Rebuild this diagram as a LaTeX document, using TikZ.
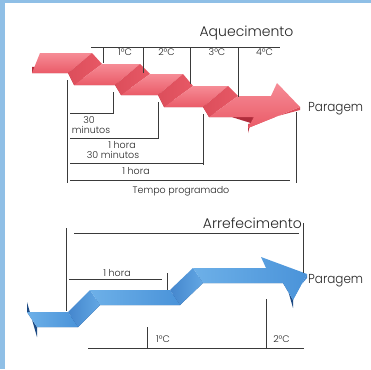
\documentclass[tikz,border=0pt]{standalone}
\usepackage{fontspec}
\setmainfont{Poppins Light}
\definecolor{bordblue}{HTML}{8FBFE6}
\definecolor{lgray}{HTML}{3A3A3A}
\definecolor{tgray}{HTML}{262626}
\definecolor{redA}{HTML}{F68C96}
\definecolor{redB}{HTML}{EA5B68}
\definecolor{redR}{HTML}{DC4E5B}
\definecolor{redD}{HTML}{B02C3B}
\definecolor{blueA}{HTML}{6DB0E8}
\definecolor{blueB}{HTML}{4A93D9}
\definecolor{blueR}{HTML}{4486CD}
\definecolor{blueD}{HTML}{1E4B84}
\begin{document}
\begin{tikzpicture}[x=1pt,y=-1pt,
  dim/.style={draw=lgray,line width=0.6pt},
  lbl/.style={inner sep=0pt,anchor=base,text=tgray,font=\fontsize{9.5}{10}\selectfont},
  big/.style={inner sep=0pt,text=tgray,font=\fontsize{14}{16}\selectfont},
  rflat/.style={top color=redA,bottom color=redB},
  rrise/.style={left color=redR,right color=redB!80!redR},
  bflat/.style={left color=blueA,right color=blueB},
  brise/.style={left color=blueR,right color=blueA!70!blueB}]
\useasboundingbox (0,0) rectangle (371,369);
\fill[white] (0,0) rectangle (371,369);
\fill[bordblue] (0,0) rectangle (371,3);
\fill[bordblue] (0,0) rectangle (5,369);

% ---------------- red staircase ----------------
% front edge
\coordinate (F0) at (32,73);  \coordinate (F1) at (68,73);
\coordinate (F2) at (74,85);  \coordinate (F3) at (115,85);
\coordinate (F4) at (121,95); \coordinate (F5) at (158,95);
\coordinate (F6) at (164,107);\coordinate (F7) at (203,107);
\coordinate (F8) at (209,117);\coordinate (FS) at (254,117);
% back edge
\coordinate (B0) at (40,53);  \coordinate (B1) at (92,53);
\coordinate (B2) at (102,64); \coordinate (B3) at (140,64);
\coordinate (B4) at (150,74); \coordinate (B5) at (183,74);
\coordinate (B6) at (193,86); \coordinate (B7) at (228,86);
\coordinate (B8) at (238,96); \coordinate (BS) at (271,96);
% arrow head
\coordinate (RB) at (277,83); \coordinate (RT) at (300,107); \coordinate (RF) at (248,128);
% dark faces
\fill[redD] (F0) -- (F1) -- (F2) -- (F3) -- (F4) -- (F5) -- (F6) -- (F7) -- (F8) -- (FS)
  -- ++(0,7) -- ([yshift=7pt]F8) -- ([yshift=7pt]F7) -- ([yshift=7pt]F6) -- ([yshift=7pt]F5)
  -- ([yshift=7pt]F4) -- ([yshift=7pt]F3) -- ([yshift=7pt]F2) -- ([yshift=7pt]F1) -- ([yshift=6pt]F0) -- cycle;
\fill[redD!85!redB] (FS) -- (RF) -- ++(0,5) -- ([yshift=6pt]FS) -- cycle;
\fill[redR] (RF) -- (RT) -- ++(0,3) -- ([yshift=4pt]RF) -- cycle;
% top faces
\path[rflat] (F0) -- (F1) -- (B1) -- (B0) -- cycle;
\path[rrise] (F1) -- (F2) -- (B2) -- (B1) -- cycle;
\path[rflat] (F2) -- (F3) -- (B3) -- (B2) -- cycle;
\path[rrise] (F3) -- (F4) -- (B4) -- (B3) -- cycle;
\path[rflat] (F4) -- (F5) -- (B5) -- (B4) -- cycle;
\path[rrise] (F5) -- (F6) -- (B6) -- (B5) -- cycle;
\path[rflat] (F6) -- (F7) -- (B7) -- (B6) -- cycle;
\path[rrise] (F7) -- (F8) -- (B8) -- (B7) -- cycle;
\path[rflat] (F8) -- (FS) -- (RF) -- (RT) -- (RB) -- (BS) -- (B8) -- cycle;

% ---------------- blue ribbon ----------------
\coordinate (b0) at (27,312); \coordinate (b1) at (68,312);
\coordinate (b2) at (90,290); \coordinate (b3) at (170,290);
\coordinate (b4) at (193,268);\coordinate (bS) at (266,268);
\coordinate (f0) at (37,327); \coordinate (f1) at (78,327);
\coordinate (f2) at (100,305);\coordinate (f3) at (180,305);
\coordinate (f4) at (203,283);\coordinate (fS) at (283,283);
\coordinate (BB) at (261,257); \coordinate (BT) at (307,274); \coordinate (BF) at (293,300);
% dark faces
\fill[blueD] (b0) -- (f0) -- ++(0,10) -- ([yshift=10pt]b0) -- cycle;
\fill[blueD] (f0) -- (f1) -- (f2) -- (f3) -- (f4) -- (fS) -- (BF) -- ++(0,8)
  -- ([yshift=10pt]fS) -- ([yshift=10pt]f4) -- ([yshift=10pt]f3) -- ([yshift=10pt]f2)
  -- ([yshift=10pt]f1) -- ([yshift=10pt]f0) -- cycle;
\fill[blueR] (BF) -- (BT) -- ++(0,4) -- ([yshift=6pt]BF) -- cycle;
% top faces
\path[bflat] (b0) -- (b1) -- (f1) -- (f0) -- cycle;
\path[brise] (b1) -- (b2) -- (f2) -- (f1) -- cycle;
\path[bflat] (b2) -- (b3) -- (f3) -- (f2) -- cycle;
\path[brise] (b3) -- (b4) -- (f4) -- (f3) -- cycle;
\path[bflat] (b4) -- (bS) -- (BB) -- (BT) -- (BF) -- (fS) -- (f4) -- cycle;

% ---------------- upper dimension lines ----------------
\coordinate (hA) at (91,47);  \coordinate (hB) at (280,47);
\coordinate (t1) at (103,47); \coordinate (u1) at (103,63);
\coordinate (t2) at (143,47); \coordinate (u2) at (143,73);
\coordinate (t3) at (190,47); \coordinate (u3) at (190,84);
\coordinate (t4) at (238,47); \coordinate (u4) at (238,97);
\draw[dim] (hA) -- (hB);
\draw[dim] (t1) -- (u1); \draw[dim] (t2) -- (u2);
\draw[dim] (t3) -- (u3); \draw[dim] (t4) -- (u4);
\node[big,anchor=base] (aq) at (246.5,37) {Aquecimento};
\node[lbl] (c1) at (125,55) {1°C};
\node[lbl] (c2) at (166.5,55) {2°C};
\node[lbl] (c3) at (217,55) {3°C};
\node[lbl] (c4) at (264.5,55) {4°C};
\node[big,anchor=base west,font=\fontsize{13}{15}\selectfont\addfontfeature{FakeStretch=0.92}] (p1) at (308,111) {Paragem};

\coordinate (L0) at (67,80);  \coordinate (L1) at (67,183);
\coordinate (m1a) at (70,113); \coordinate (m1b) at (113,113); \coordinate (m1c) at (113,92);
\coordinate (m2a) at (70,138); \coordinate (m2b) at (158,138); \coordinate (m2c) at (158,102);
\coordinate (m3a) at (70,163); \coordinate (m3b) at (203,163); \coordinate (m3c) at (203,114); \coordinate (m3d) at (203,165);
\coordinate (m4a) at (70,180); \coordinate (m4b) at (290,180); \coordinate (m4c) at (296,112); \coordinate (m4d) at (296,183);
\draw[dim] (L0) -- (L1);
\draw[dim] (m1a) -- (m1b) -- (m1c);
\draw[dim] (m2a) -- (m2b) -- (m2c);
\draw[dim] (m3a) -- (m3b); \draw[dim] (m3c) -- (m3d);
\draw[dim] (m4a) -- (m4b); \draw[dim] (m4c) -- (m4d);
\node[lbl] (s1) at (89,123) {30};
\node[lbl] (s2) at (91,133) {minutos};
\node[lbl] (s3) at (122,148) {1 hora};
\node[lbl] (s4) at (113,158) {30 minutos};
\node[lbl] (s5) at (136,174) {1 hora};
\node[lbl] (s6) at (181,193) {Tempo programado};

% ---------------- lower dimension lines ----------------
\node[big,anchor=base east] (ar) at (302,228) {Arrefecimento};
\node[big,anchor=base west,font=\fontsize{13}{15}\selectfont\addfontfeature{FakeStretch=0.92}] (p2) at (308,283) {Paragem};
\coordinate (k0) at (74,233); \coordinate (k1) at (299,233);
\coordinate (k2) at (66,228); \coordinate (k3) at (66,311);
\coordinate (k4) at (303,223); \coordinate (k5) at (303,273);
\coordinate (k6) at (69,279); \coordinate (k7) at (162,279);
\coordinate (k8) at (167,273); \coordinate (k9) at (167,290);
\coordinate (n0) at (88,348); \coordinate (n1) at (304,348);
\coordinate (n2) at (147,327); \coordinate (n3) at (147,348);
\coordinate (n4) at (266,299); \coordinate (n5) at (266,348);
\draw[dim] (k0) -- (k1); \draw[dim] (k2) -- (k3); \draw[dim] (k4) -- (k5);
\draw[dim] (k6) -- (k7); \draw[dim] (k8) -- (k9);
\draw[dim] (n0) -- (n1); \draw[dim] (n2) -- (n3); \draw[dim] (n4) -- (n5);
\node[lbl] (h1) at (117,276) {1 hora};
\node[lbl] (d1) at (163,342) {1°C};
\node[lbl] (d2) at (281.5,342) {2°C};
\end{tikzpicture}
\end{document}
